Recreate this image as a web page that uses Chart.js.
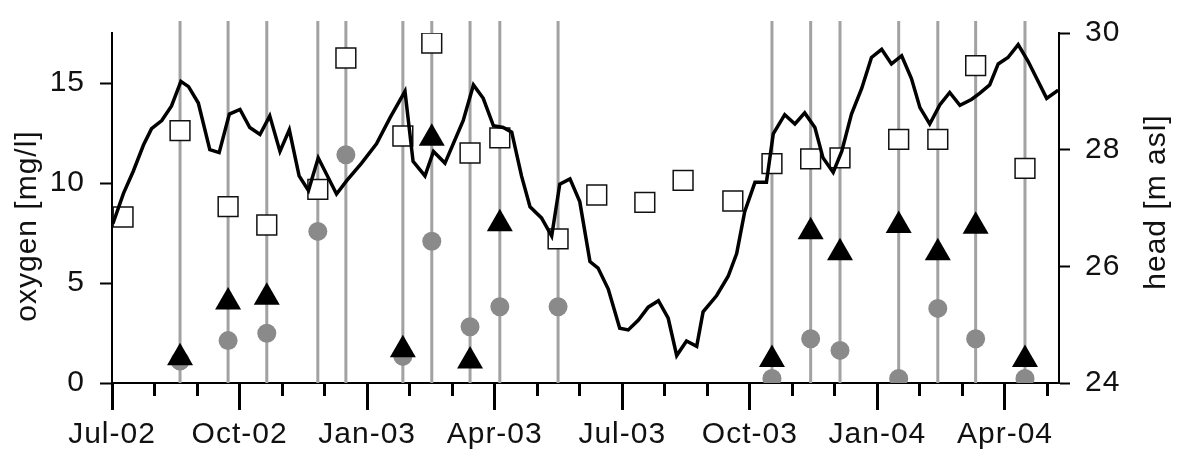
<!DOCTYPE html>
<html>
<head>
<meta charset="utf-8">
<script src="https://cdn.jsdelivr.net/npm/chart.js@4.4.1/dist/chart.umd.min.js"></script>
<style>
html,body{margin:0;padding:0;background:#fff;}
</style>
</head>
<body>
<canvas id="chart" width="1180" height="459"></canvas>
<script>
// x values are months after 1 Jul 2002
var monthLabels=['Jul-02','Oct-02','Jan-03','Apr-03','Jul-03','Oct-03','Jan-04','Apr-04'];
var sampleMonths=[0.26,1.60,2.73,3.64,4.84,5.50,6.84,7.52,8.42,9.12,10.49,11.40,12.53,13.43,14.60,15.52,16.43,17.12,18.50,19.42,20.31,21.47];
var squareO2=[8.30,12.62,8.82,7.90,9.68,16.25,12.35,17.0,11.50,12.26,7.21,9.40,9.03,10.13,9.10,10.97,11.21,11.26,12.18,12.18,15.87,10.73];
var circleO2=[null,1.10,2.12,2.49,7.58,11.41,1.33,7.09,2.81,3.81,3.81,null,null,null,null,0.23,2.21,1.63,0.23,3.73,2.21,0.23];
var triangleO2=[null,1.26,4.05,4.29,null,null,1.66,12.24,1.10,7.96,null,null,null,null,null,1.18,7.56,6.51,7.88,6.51,7.84,1.18];
var headMonths=[0.02,0.27,0.50,0.74,0.93,1.17,1.40,1.62,1.80,2.03,2.30,2.52,2.76,3.01,3.24,3.48,3.71,3.95,4.17,4.40,4.62,4.85,5.28,5.52,5.87,6.22,6.54,6.89,7.08,7.36,7.56,7.83,8.26,8.50,8.73,8.97,9.20,9.40,9.63,9.83,10.10,10.34,10.53,10.77,11.00,11.24,11.43,11.67,11.94,12.14,12.38,12.61,12.85,13.08,13.28,13.51,13.75,13.90,14.22,14.49,14.69,14.88,15.12,15.39,15.55,15.82,16.06,16.29,16.53,16.72,16.96,17.16,17.39,17.63,17.86,18.10,18.33,18.57,18.80,19.00,19.23,19.47,19.70,19.94,20.21,20.41,20.64,20.84,21.07,21.31,21.54,21.98,22.25];
var headLevel=[26.73,27.25,27.63,28.08,28.36,28.50,28.75,29.17,29.08,28.80,28.00,27.95,28.61,28.69,28.38,28.26,28.58,27.97,28.34,27.55,27.30,27.86,27.24,27.47,27.77,28.10,28.55,29.00,27.80,27.55,27.97,27.77,28.50,29.11,28.88,28.41,28.38,28.30,27.55,27.02,26.83,26.52,27.41,27.50,27.11,26.08,25.97,25.61,24.94,24.91,25.08,25.30,25.41,25.11,24.47,24.72,24.63,25.22,25.50,25.83,26.22,26.94,27.44,27.44,28.27,28.60,28.44,28.63,28.38,27.86,27.61,27.97,28.61,29.05,29.58,29.72,29.47,29.61,29.22,28.72,28.44,28.77,28.98,28.76,28.86,28.97,29.11,29.47,29.58,29.80,29.52,28.88,29.02];
var oxygenTicks=[0,5,10,15];
var headTicks=[24,26,28,30];
var leftTitle='oxygen [mg/l]',rightTitle='head [m asl]';

var xMax=22.27,lineTop=18.1,fontFace='"Liberation Sans", Arial, sans-serif',fontSize=30,ink='#111';

function points(ys){
    var out=[];
    for(var i=0;i<sampleMonths.length;i++){
        if(ys[i]!==null) out.push({x:sampleMonths[i],y:ys[i]});
    }
    return out;
}
var headData=headMonths.map(function(m,i){return {x:m,y:headLevel[i]};});
var sampleLines=[];
for(var i=0;i<sampleMonths.length;i++){
    if(circleO2[i]===null) continue;
    sampleLines.push({x:sampleMonths[i],y:0},{x:sampleMonths[i],y:lineTop},{x:sampleMonths[i],y:null});
}

var axisTitles={
    id:'axisTitles',
    beforeDraw:function(chart){chart.ctx.letterSpacing='1px';},
    afterDraw:function(chart){
        var ctx=chart.ctx,a=chart.chartArea,mid=(a.top+a.bottom)/2;
        ctx.save();
        ctx.font=fontSize+'px '+fontFace;
        ctx.fillStyle=ink;
        ctx.textAlign='center';
        ctx.textBaseline='middle';
        [[leftTitle,chart.scales.y.left+28,mid+18],[rightTitle,chart.scales.y2.right-23,mid-6]].forEach(function(t){
            ctx.save();
            ctx.translate(t[1],t[2]);
            ctx.rotate(-Math.PI/2);
            ctx.fillText(t[0],0,0);
            ctx.restore();
        });
        ctx.restore();
    }
};

new Chart(document.getElementById('chart'),{
    type:'scatter',
    data:{datasets:[
        {type:'line',data:sampleLines,borderColor:'#a2a2a2',borderWidth:3,pointRadius:0,spanGaps:false,clip:false,order:5},
        {data:points(squareO2),pointStyle:'rect',pointRadius:14,pointBorderWidth:1.5,pointBorderColor:'#111',pointBackgroundColor:'#fff',order:4},
        {type:'line',data:headData,yAxisID:'y2',borderColor:'#000',borderWidth:3.5,pointRadius:0,tension:0,order:3},
        {data:points(circleO2),pointStyle:'circle',pointRadius:9.5,pointBorderWidth:0,pointBackgroundColor:'#8a8a8a',order:2},
        {data:points(triangleO2),pointStyle:'triangle',pointRadius:15,pointBorderWidth:0,pointBackgroundColor:'#000',order:1}
    ]},
    options:{
        responsive:false,
        animation:false,
        events:[],
        layout:{padding:{top:22,left:0,right:0,bottom:0}},
        plugins:{legend:{display:false},tooltip:{enabled:false}},
        scales:{
            x:{
                type:'linear',position:'bottom',min:0,max:xMax,
                afterFit:function(s){s.height=76;},
                border:{display:true,color:'#000',width:2},
                grid:{drawOnChartArea:false,drawTicks:true,tickLength:27,tickColor:'#000',tickWidth:3},
                ticks:{stepSize:3,includeBounds:false,padding:7,color:ink,font:{family:fontFace,size:fontSize},maxRotation:0,autoSkip:false,
                    callback:function(v){return monthLabels[Math.round(v/3)];}}
            },
            xMinor:{
                type:'linear',axis:'x',position:{y:0},min:0,max:xMax,
                border:{display:false},
                grid:{drawOnChartArea:false,drawTicks:true,tickLength:13,tickColor:'#000',tickWidth:3},
                ticks:{stepSize:1,includeBounds:false,display:false}
            },
            y:{
                type:'linear',position:'left',min:0,max:17.5,
                afterFit:function(s){s.width=112;},
                afterBuildTicks:function(s){s.ticks=oxygenTicks.map(function(v){return {value:v};});},
                border:{display:true,color:'#000',width:2},
                grid:{drawOnChartArea:false,drawTicks:true,tickLength:12,tickColor:'#000',tickWidth:2},
                ticks:{padding:15,color:ink,font:{family:fontFace,size:fontSize}}
            },
            y2:{
                type:'linear',position:'right',min:24,max:30,
                afterFit:function(s){s.width=121;},
                afterBuildTicks:function(s){s.ticks=headTicks.map(function(v){return {value:v};});},
                border:{display:true,color:'#000',width:2},
                grid:{drawOnChartArea:false,drawTicks:true,tickLength:11,tickColor:'#000',tickWidth:2},
                ticks:{padding:15,color:ink,font:{family:fontFace,size:fontSize}}
            }
        }
    },
    plugins:[axisTitles]
});
</script>
</body>
</html>
